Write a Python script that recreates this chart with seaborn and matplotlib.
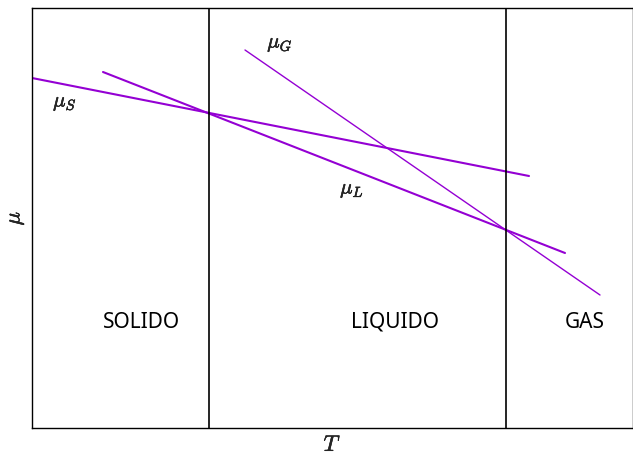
import matplotlib
matplotlib.use("Agg")
import matplotlib.pyplot as plt
import matplotlib.patheffects as pe
import seaborn as sns
import pandas as pd

# Chemical potential of each phase vs temperature (straight segments)
phases = ["S", "L", "G"]
T_start = [0.00, 0.71, 2.13]
T_end = [4.97, 5.33, 5.68]
mu_start = [3.50, 3.56, 3.78]
mu_end = [2.52, 1.75, 1.33]
widths = [1.5, 1.5, 1.0]

# Transition temperatures (melting, boiling)
T_transitions = [1.77, 4.74]

# Region names and where they sit
region_names = ["SOLIDO", "LIQUIDO", "GAS"]
region_T = [1.09, 3.63, 5.53]
region_mu = [1.06, 1.06, 1.06]

# Label positions for each curve
label_names = ["S", "G", "L"]
label_T = [0.33, 2.48, 3.20]
label_mu = [3.26, 3.85, 2.39]

sns.set_theme(style="white")
plt.rcParams["mathtext.fontset"] = "cm"
plt.rcParams["font.family"] = ["Noto Sans", "DejaVu Sans"]

fig = plt.figure(figsize=(6.33, 4.55), dpi=100)
ax = fig.add_axes([32 / 633, 1 - 428 / 455, 601 / 633, 420 / 455])

color = "#9400D3"
for p, t0, t1, m0, m1, lw in zip(phases, T_start, T_end, mu_start, mu_end, widths):
    df = pd.DataFrame({"T": [t0, t1], "mu": [m0, m1]})
    sns.lineplot(data=df, x="T", y="mu", ax=ax, color=color, lw=lw, sort=False)

for t in T_transitions:
    ax.axvline(t, color="black", lw=1.2)

for name, t, m in zip(region_names, region_T, region_mu):
    ax.text(t, m, name, ha="center", va="center", fontsize=15, color="black")

heavy = [pe.withStroke(linewidth=0.35, foreground="black")]
for p, t, m in zip(label_names, label_T, label_mu):
    ax.text(t, m, rf"$\mu_{p}$", ha="center", va="center", fontsize=15,
            path_effects=heavy)

ax.set_xlim(0, 6.01)
ax.set_ylim(0, 4.20)
ax.set_xticks([])
ax.set_yticks([])
ax.set_xlabel(r"$T$", fontsize=16, labelpad=5, path_effects=heavy)
ax.set_ylabel(r"$\mu$", fontsize=16, labelpad=4, path_effects=heavy)
for s in ax.spines.values():
    s.set_color("black")
    s.set_linewidth(1.0)

fig.savefig("out.png", dpi=100)
